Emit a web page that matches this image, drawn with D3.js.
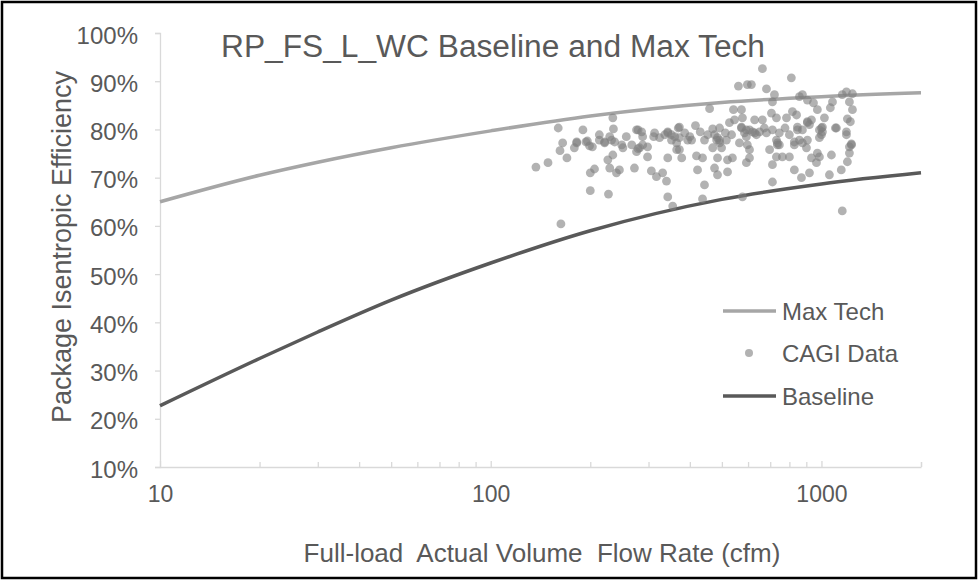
<!DOCTYPE html>
<html>
<head>
<meta charset="utf-8">
<script src="https://cdn.jsdelivr.net/npm/d3@7"></script>
<style>
  html, body { margin: 0; padding: 0; background: #fff; }
  svg text { font-family: "Liberation Sans", Arial, sans-serif; fill: #595959; }
</style>
</head>
<body>
<svg id="chart" width="979" height="581"></svg>
<script>
// ---- Data ----
const chartTitle = "RP_FS_L_WC Baseline and Max Tech";
const xAxisTitle = "Full-load  Actual Volume  Flow Rate (cfm)";
const yAxisTitle = "Package Isentropic Efficiency";
const xTickLabels = [10, 100, 1000];
const yTickValues = [0.1, 0.2, 0.3, 0.4, 0.5, 0.6, 0.7, 0.8, 0.9, 1.0];

const curveFlow     = [10, 20, 30, 50, 100, 200, 500, 1000, 2000];
const maxTechEff    = [65.0, 70.5, 73.2, 76.2, 79.7, 82.8, 85.6, 86.8, 87.6];
const baselineEff   = [22.7, 32.5, 38.0, 44.6, 52.3, 59.0, 65.5, 68.7, 71.0];

const cagiFlow = [137,149,160,165,162,170,182,179,190,194,199,203,200,206,200,213,221,229,234,235,237,234,226,229,240,245,249,251,227,267,272,276,286,282,276,288,298,298,306,311,317,324,331,340,343,343,352,360,365,372,372,378,343,355,394,405,416,419,422,437,443,437,443,453,459,469,469,475,485,485,492,492,499,516,520,520,527,535,538,542,546,561,573,577,565,573,593,597,593,
663,614,682,811,721,711,628,663,706,731,784,817,841,858,876,907,946,972,933,907,846,846,1021,1064,1080,1156,1190,1241,1215,1241,1198,1223,573,593,619,650,682,711,746,731,736,697,597,606,606,711,731,762,800,828,858,876,901,907,876,986,1000,1007,986,1110,1190,1190,1232,1215,1198,1148,1057,1072,986,933,966,972,828,870,920,711,577,1156,163,
313,336,386,400,430,475,512,585,636,672,776,800,257,213,
343,352,369,372,482,492,485,182,196,221,232,279,288,365,279,
606,628,736,746,1000,1007,1102,1232,1215,907,920,828];
const cagiEff = [72.2,73.1,80.3,77.2,75.6,74.1,77.4,76.2,79.9,77.4,76.6,76.4,71.0,71.8,67.3,78.9,77.2,78.5,82.4,80.1,77.4,74.7,73.7,72.0,71.0,71.6,76.8,76.2,66.6,76.8,72.0,79.9,79.5,76.2,75.4,78.5,76.4,74.3,71.4,78.5,70.2,78.3,71.0,69.3,74.1,79.5,77.8,78.5,77.2,75.8,80.5,74.1,66.0,64.1,77.8,77.8,80.8,74.5,71.6,74.1,68.5,65.6,77.8,78.9,84.3,80.1,76.2,72.0,70.6,74.1,80.3,77.8,76.2,77.8,73.7,71.2,81.4,78.9,74.1,84.1,82.0,89.0,84.1,82.4,77.2,80.3,78.5,89.3,73.1,
92.6,89.3,88.4,90.7,87.2,85.7,82.0,82.0,83.4,82.4,82.4,83.7,83.0,86.8,87.2,86.1,85.5,84.1,82.0,81.4,80.5,79.9,82.4,84.5,85.7,87.2,87.8,87.4,85.7,84.1,82.2,81.6,80.5,79.9,79.5,79.5,79.3,79.9,79.3,77.8,76.8,75.8,76.8,75.8,74.1,72.7,74.3,74.3,74.3,76.8,77.8,77.2,76.2,77.8,79.9,79.9,78.9,80.5,78.3,80.3,79.5,78.9,76.8,75.1,73.3,71.6,70.6,74.7,74.3,74.1,73.1,75.1,71.6,70.0,71.0,69.1,66.0,63.1,60.4,
79.3,78.9,79.3,78.5,79.5,78.9,79.3,79.3,78.9,80.3,80.3,78.9,78.5,77.8,
79.3,78.9,80.3,78.3,77.8,77.2,78.3,77.2,77.6,77.4,77.8,76.0,76.8,75.8,79.9,
79.9,79.3,77.2,76.8,80.3,79.5,80.3,77.0,76.4,81.6,81.0,77.4];

const legendLabels = ["Max Tech", "CAGI Data", "Baseline"];

// ---- Chart ----
const svg = d3.select("#chart");
const colMax = "#a6a6a6", colBase = "#595959", colDot = "#7f7f7f", colAxis = "#d9d9d9";
const FONT = "'Liberation Sans', Arial, sans-serif";

svg.append("rect").attr("x", 2).attr("y", 2).attr("width", 974).attr("height", 576)
  .attr("fill", "#fff").attr("stroke", "#000").attr("stroke-width", 2.5);

const x = d3.scaleLog().domain([10, 2000]).range([160, 921]);
const y = d3.scaleLinear().domain([0.1, 1.0]).range([467, 33]);

// y axis
const yAxis = d3.axisLeft(y).tickValues(yTickValues).tickFormat(d3.format(".0%")).tickSize(5).tickPadding(17);
const gy = svg.append("g").attr("transform", "translate(160,0)").call(yAxis);
gy.select(".domain").attr("stroke", colAxis).attr("stroke-width", 1.3);
gy.selectAll(".tick line").attr("stroke", colAxis).attr("stroke-width", 1.3);
gy.selectAll(".tick text").attr("font-size", 24).attr("fill", "#595959").attr("dy", "0.42em")
  .style("font-family", FONT);

// x axis
const xTicks = [];
[10, 100, 1000].forEach(dec => { for (let k = 1; k <= 9; k++) { const v = dec * k; if (v <= 2000) xTicks.push(v); } });
xTicks.push(2000);
const xAxis = d3.axisBottom(x).tickValues(xTicks)
  .tickFormat(d => xTickLabels.includes(d) ? String(d) : "").tickSize(0).tickPadding(19);
const gx = svg.append("g").attr("transform", "translate(0,467)").call(xAxis);
gx.select(".domain").attr("stroke", colAxis).attr("stroke-width", 1.3);
gx.selectAll(".tick").append("line").attr("x1", 0).attr("x2", 0).attr("y1", 0)
  .attr("y2", d => xTickLabels.includes(d) ? -6 : -5).attr("stroke", colAxis).attr("stroke-width", 1.3);
gx.selectAll(".tick text").attr("font-size", 23).attr("fill", "#595959")
  .style("font-family", FONT);

// curves
const line = d3.line().x(d => x(d[0])).y(d => y(d[1] / 100)).curve(d3.curveMonotoneX);
svg.append("path").datum(curveFlow.map((f, i) => [f, maxTechEff[i]]))
  .attr("d", line).attr("fill", "none").attr("stroke", colMax).attr("stroke-width", 3.5);
svg.append("path").datum(curveFlow.map((f, i) => [f, baselineEff[i]]))
  .attr("d", line).attr("fill", "none").attr("stroke", colBase).attr("stroke-width", 3.5);

// scatter
svg.append("g").selectAll("circle").data(cagiFlow.map((f, i) => [f, cagiEff[i]])).join("circle")
  .attr("cx", d => x(d[0])).attr("cy", d => y(d[1] / 100)).attr("r", 4.4)
  .attr("fill", colDot).attr("fill-opacity", 0.6);

// title
svg.append("text").attr("x", 221).attr("y", 57).attr("font-size", 31)
  .attr("textLength", 544).attr("lengthAdjust", "spacingAndGlyphs").text(chartTitle);

// axis titles
svg.append("text").attr("x", 542).attr("y", 562).attr("text-anchor", "middle")
  .attr("font-size", 26).style("white-space", "pre").text(xAxisTitle);
svg.append("text").attr("transform", "translate(71,247) rotate(-90)").attr("text-anchor", "middle")
  .attr("font-size", 27).text(yAxisTitle);

// legend
const lg = svg.append("g");
const ly = [311, 353, 396];
lg.append("line").attr("x1", 723).attr("x2", 776).attr("y1", ly[0]).attr("y2", ly[0]).attr("stroke", colMax).attr("stroke-width", 3.5);
lg.append("circle").attr("cx", 749).attr("cy", ly[1]).attr("r", 4).attr("fill", colDot).attr("fill-opacity", 0.6);
lg.append("line").attr("x1", 723).attr("x2", 776).attr("y1", ly[2]).attr("y2", ly[2]).attr("stroke", colBase).attr("stroke-width", 3.5);
legendLabels.forEach((t, i) => {
  lg.append("text").attr("x", 782).attr("y", ly[i] + 8.5).attr("font-size", 24).text(t);
});
</script>
</body>
</html>
